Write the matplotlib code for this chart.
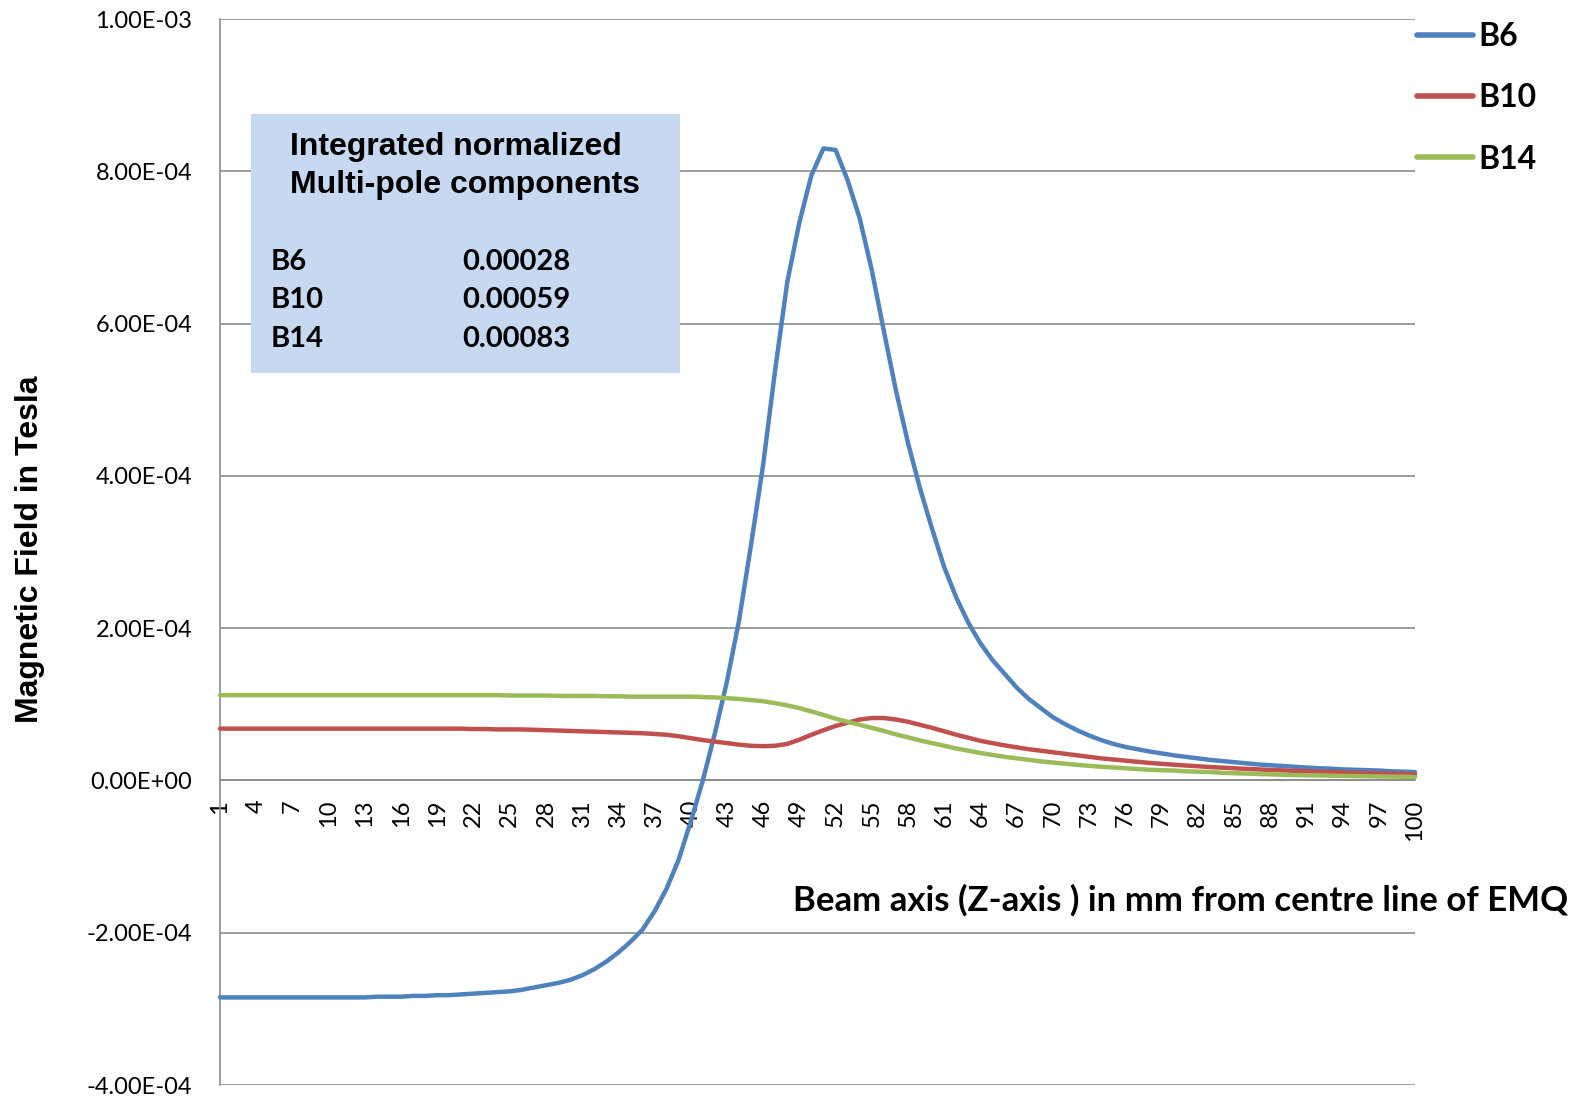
import numpy as np
import matplotlib
matplotlib.use("Agg")
import matplotlib.pyplot as plt
from matplotlib.patches import Rectangle
from matplotlib.ticker import FuncFormatter

# position along beam axis (mm), 1..100
z = np.arange(1, 101)

# field values, in units of 1e-4 Tesla
b6 = np.array([
    -2.85, -2.85, -2.85, -2.85, -2.85, -2.85, -2.85, -2.85, -2.85, -2.85,
    -2.85, -2.85, -2.85, -2.84, -2.84, -2.84, -2.83, -2.83, -2.82, -2.82,
    -2.81, -2.80, -2.79, -2.78, -2.77, -2.75, -2.72, -2.69, -2.66, -2.62,
    -2.56, -2.48, -2.38, -2.26, -2.12, -1.96, -1.72, -1.42, -1.04, -0.54,
    0.00, 0.62, 1.30, 2.10, 3.10, 4.15, 5.40, 6.55, 7.33, 7.95,
    8.30, 8.28, 7.88, 7.38, 6.70, 5.90, 5.12, 4.43, 3.83, 3.30,
    2.80, 2.40, 2.07, 1.80, 1.58, 1.40, 1.22, 1.07, 0.95, 0.83,
    0.74, 0.66, 0.59, 0.53, 0.48, 0.44, 0.41, 0.38, 0.355, 0.33,
    0.31, 0.29, 0.27, 0.255, 0.24, 0.225, 0.21, 0.20, 0.19, 0.18,
    0.17, 0.16, 0.155, 0.145, 0.14, 0.135, 0.13, 0.12, 0.115, 0.11,
])
b10 = np.array([
    0.68, 0.68, 0.68, 0.68, 0.68, 0.68, 0.68, 0.68, 0.68, 0.68,
    0.68, 0.68, 0.68, 0.68, 0.68, 0.68, 0.68, 0.68, 0.68, 0.68,
    0.68, 0.675, 0.675, 0.67, 0.67, 0.67, 0.665, 0.66, 0.655, 0.65,
    0.645, 0.64, 0.635, 0.63, 0.625, 0.62, 0.61, 0.60, 0.58, 0.555,
    0.53, 0.51, 0.49, 0.47, 0.455, 0.45, 0.455, 0.48, 0.535, 0.60,
    0.66, 0.715, 0.76, 0.80, 0.82, 0.82, 0.80, 0.77, 0.73, 0.69,
    0.645, 0.60, 0.56, 0.52, 0.49, 0.46, 0.435, 0.41, 0.39, 0.37,
    0.35, 0.33, 0.31, 0.29, 0.275, 0.26, 0.245, 0.23, 0.218, 0.207,
    0.196, 0.186, 0.176, 0.168, 0.16, 0.152, 0.145, 0.138, 0.132, 0.126,
    0.12, 0.115, 0.11, 0.105, 0.10, 0.096, 0.092, 0.088, 0.085, 0.082,
])
b14 = np.array([
    1.12, 1.12, 1.12, 1.12, 1.12, 1.12, 1.12, 1.12, 1.12, 1.12,
    1.12, 1.12, 1.12, 1.12, 1.12, 1.12, 1.12, 1.12, 1.12, 1.12,
    1.12, 1.12, 1.12, 1.12, 1.115, 1.115, 1.115, 1.115, 1.11, 1.11,
    1.11, 1.11, 1.105, 1.105, 1.10, 1.10, 1.10, 1.10, 1.10, 1.10,
    1.095, 1.09, 1.08, 1.07, 1.055, 1.04, 1.015, 0.985, 0.95, 0.905,
    0.86, 0.81, 0.77, 0.73, 0.69, 0.65, 0.605, 0.565, 0.525, 0.49,
    0.455, 0.42, 0.39, 0.36, 0.335, 0.31, 0.29, 0.27, 0.25, 0.235,
    0.22, 0.205, 0.192, 0.18, 0.17, 0.16, 0.15, 0.14, 0.135, 0.13,
    0.12, 0.115, 0.11, 0.10, 0.095, 0.09, 0.085, 0.08, 0.075, 0.07,
    0.068, 0.065, 0.062, 0.06, 0.057, 0.055, 0.052, 0.05, 0.048, 0.045,
])
scale = 1e-4

series_names = ["B6", "B10", "B14"]
series_colors = ["#4F81BD", "#C0504D", "#9BBB59"]

# integrated normalized multipole components shown in the inset box
box_names = ["B6", "B10", "B14"]
box_values = ["0.00028", "0.00059", "0.00083"]

x_ticks = np.arange(1, 101, 3)
y_ticks = np.arange(-4e-4, 1.0001e-3, 2e-4)

W, H = 1579, 1097
fig = plt.figure(figsize=(W / 100, H / 100), dpi=100)
ax = fig.add_axes([220 / W, 1 - 1085 / H, (1415 - 220) / W, (1085 - 19) / H])

grid_color = "#8C8C8C"
for vals, name, col in zip([b6, b10, b14], series_names, series_colors):
    ax.plot(z, vals * scale, color=col, linewidth=3.2, label=name,
            solid_capstyle="round", solid_joinstyle="round", zorder=5, clip_on=False)

ax.set_xlim(1, 100)
ax.set_ylim(-4e-4, 1e-3)
ax.set_yticks(y_ticks)
ax.yaxis.set_major_formatter(FuncFormatter(lambda v, p: "{:.2E}".format(0 if abs(v) < 1e-12 else v)))
ax.set_xticks(x_ticks)
ax.set_xticklabels([str(t) for t in x_ticks])

ax.grid(axis="y", color=grid_color, linewidth=1.2, zorder=0)
ax.set_axisbelow(True)
ax.spines["top"].set_visible(False)
ax.spines["right"].set_visible(False)
ax.spines["left"].set_color(grid_color)
ax.spines["left"].set_linewidth(1.2)
ax.spines["bottom"].set_position(("data", 0))
ax.spines["bottom"].set_color(grid_color)
ax.spines["bottom"].set_linewidth(1.2)
ax.tick_params(axis="y", length=0, pad=20, labelsize=17)
ax.tick_params(axis="x", length=0, pad=14, labelsize=17, labelrotation=90)
for tick in ax.get_xticklabels() + ax.get_yticklabels():
    tick.set_fontfamily("Lato")

# axis titles
fig.text(30 / W, 1 - 549 / H, "Magnetic Field in Tesla", rotation=90,
         ha="center", va="center", fontsize=23, fontweight="bold",
         family="Liberation Sans")
fig.text(1568 / W, 1 - 911 / H, "Beam axis (Z-axis ) in mm from centre line of EMQ",
         ha="right", va="baseline", fontsize=25, fontweight="bold", family="Lato")

# inset box
box = Rectangle((251 / W, 1 - 373 / H), (680 - 251) / W, (373 - 114) / H,
                transform=fig.transFigure, facecolor="#C6D9F1", edgecolor="none", zorder=3)
ax.add_patch(box)
fig.text(290 / W, 1 - 155 / H, "Integrated normalized", ha="left", va="baseline",
         fontsize=23, fontweight="bold", family="Liberation Sans", zorder=6)
fig.text(290 / W, 1 - 193 / H, "Multi-pole components", ha="left", va="baseline",
         fontsize=23, fontweight="bold", family="Liberation Sans", zorder=6)
for i, (nm, val) in enumerate(zip(box_names, box_values)):
    yb = 1 - (270 + 38.5 * i) / H
    fig.text(271 / W, yb, nm, ha="left", va="baseline", fontsize=21,
             fontweight="bold", family="Lato", zorder=6)
    fig.text(462 / W, yb, val, ha="left", va="baseline", fontsize=21,
             fontweight="bold", family="Lato", zorder=6)

leg = fig.legend(loc="upper left", bbox_to_anchor=(1417 / W, 1 - 22 / H),
                 frameon=False, borderpad=0, borderaxespad=0, handlelength=1.75,
                 handletextpad=0.17, labelspacing=1.01,
                 prop={"family": "Lato", "weight": "bold", "size": 23})
for line in leg.get_lines():
    line.set_linewidth(4)
    line.set_solid_capstyle("round")

fig.savefig("out.png", dpi=100)
